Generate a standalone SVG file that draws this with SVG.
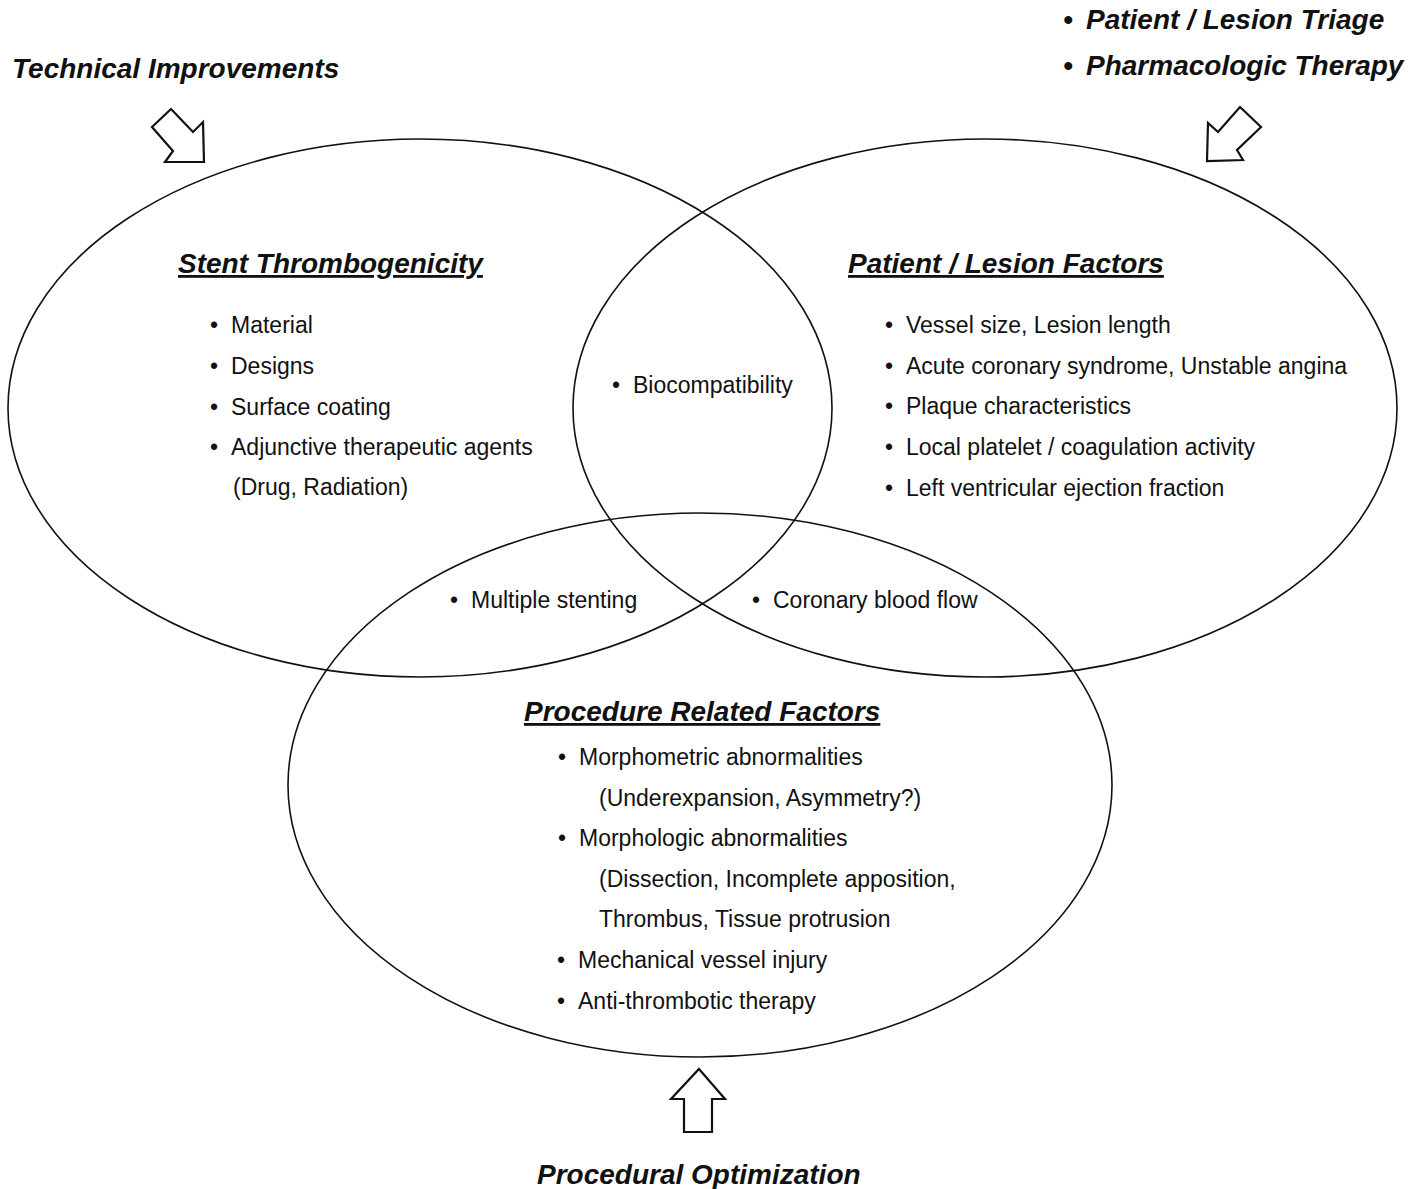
<svg xmlns="http://www.w3.org/2000/svg" width="1410" height="1189" viewBox="0 0 1410 1189">
<style>
.t{font-family:"Liberation Sans",Arial,sans-serif;font-size:23px;fill:#111}
.h{font-family:"Liberation Sans",Arial,sans-serif;font-size:28px;font-weight:bold;font-style:italic;fill:#111;text-decoration:underline}
.l{font-family:"Liberation Sans",Arial,sans-serif;font-size:28px;font-weight:bold;font-style:italic;fill:#111}
.e{fill:none;stroke:#111;stroke-width:1.6}
.a{fill:#fff;stroke:#111;stroke-width:2.2;stroke-linejoin:miter}
</style>
<rect width="1410" height="1189" fill="#fff"/>
<g id="stent-thrombogenicity">
<ellipse class="e" cx="420" cy="408" rx="412" ry="269"/>
<text class="h" x="178" y="273">Stent Thrombogenicity</text>
<text class="t" y="333"><tspan x="210">•</tspan><tspan x="231">Material</tspan></text>
<text class="t" y="374"><tspan x="210">•</tspan><tspan x="231">Designs</tspan></text>
<text class="t" y="415"><tspan x="210">•</tspan><tspan x="231">Surface coating</tspan></text>
<text class="t" y="455"><tspan x="210">•</tspan><tspan x="231">Adjunctive therapeutic agents</tspan></text>
<text class="t" x="233" y="495">(Drug, Radiation)</text>
</g>
<g id="patient-lesion-factors">
<ellipse class="e" cx="985" cy="408" rx="412" ry="269"/>
<text class="h" x="848" y="273">Patient / Lesion Factors</text>
<text class="t" y="333"><tspan x="885">•</tspan><tspan x="906">Vessel size, Lesion length</tspan></text>
<text class="t" y="374"><tspan x="885">•</tspan><tspan x="906">Acute coronary syndrome, Unstable angina</tspan></text>
<text class="t" y="414"><tspan x="885">•</tspan><tspan x="906">Plaque characteristics</tspan></text>
<text class="t" y="455"><tspan x="885">•</tspan><tspan x="906">Local platelet / coagulation activity</tspan></text>
<text class="t" y="496"><tspan x="885">•</tspan><tspan x="906">Left ventricular ejection fraction</tspan></text>
</g>
<g id="procedure-related-factors">
<ellipse class="e" cx="700" cy="785" rx="412" ry="272"/>
<text class="h" x="524" y="721">Procedure Related Factors</text>
<text class="t" y="765"><tspan x="558">•</tspan><tspan x="579">Morphometric abnormalities</tspan></text>
<text class="t" x="599" y="806">(Underexpansion, Asymmetry?)</text>
<text class="t" y="846"><tspan x="558">•</tspan><tspan x="579">Morphologic abnormalities</tspan></text>
<text class="t" x="599" y="887">(Dissection, Incomplete apposition,</text>
<text class="t" x="599" y="927">Thrombus, Tissue protrusion</text>
<text class="t" y="968"><tspan x="557">•</tspan><tspan x="578">Mechanical vessel injury</tspan></text>
<text class="t" y="1009"><tspan x="557">•</tspan><tspan x="578">Anti-thrombotic therapy</tspan></text>
</g>
<g id="overlaps">
<text class="t" y="393"><tspan x="612">•</tspan><tspan x="633">Biocompatibility</tspan></text>
<text class="t" y="608"><tspan x="450">•</tspan><tspan x="471">Multiple stenting</tspan></text>
<text class="t" y="608"><tspan x="752">•</tspan><tspan x="773">Coronary blood flow</tspan></text>
</g>
<g id="labels">
<text class="l" x="12" y="78">Technical Improvements</text>
<text class="l" y="29"><tspan x="1063">•</tspan><tspan x="1086">Patient / Lesion Triage</tspan></text>
<text class="l" y="75"><tspan x="1063">•</tspan><tspan x="1086">Pharmacologic Therapy</tspan></text>
<text class="l" x="537" y="1184">Procedural Optimization</text>
</g>
<g id="connectors">
<polygon class="a" points="171,109 193,132 203,122 204,162 165,162 173,151 152,127"/>
<polygon class="a" points="1240,107 1261,127 1237,150 1243,160 1207,161 1208,123 1218,132"/>
<polygon class="a" points="699,1069 725,1099 712,1099 712,1132 684,1132 684,1099 671,1099"/>
</g>
</svg>
